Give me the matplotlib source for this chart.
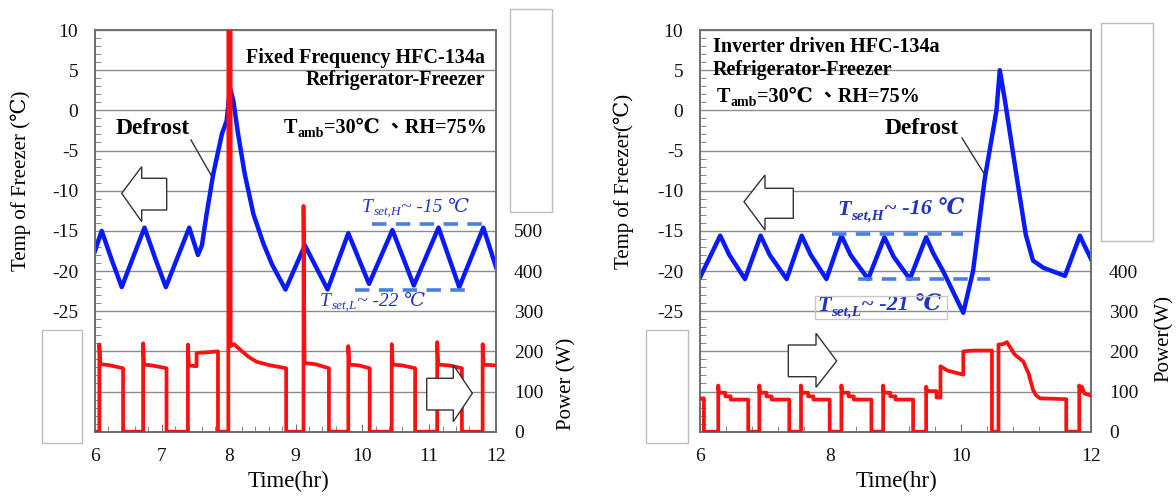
import matplotlib
matplotlib.use('Agg')
import matplotlib.pyplot as plt
from matplotlib.patches import Rectangle, Polygon
from matplotlib.ticker import MultipleLocator

plt.rcParams['font.family'] = ['Liberation Serif', 'DejaVu Serif', 'Noto Sans CJK TC']

# freezer temperature (hr, degC) - fixed frequency unit
temp_fix = [
    (6.00, -17.5), (6.10, -15.0), (6.25, -18.6), (6.40, -22.0), (6.74, -14.6),
    (6.90, -18.4), (7.06, -22.0), (7.41, -14.6), (7.54, -18.0), (7.60, -16.8),
    (7.67, -12.9), (7.77, -7.9), (7.90, -2.9), (7.97, -1.3), (8.02, 2.8),
    (8.07, 1.2), (8.14, -2.9), (8.24, -7.9), (8.37, -12.9), (8.52, -16.6),
    (8.65, -19.2), (8.85, -22.3), (9.14, -16.8), (9.48, -22.3), (9.79, -15.3),
    (10.10, -21.6), (10.45, -14.9), (10.77, -21.8), (11.14, -14.6), (11.45, -22.0),
    (11.81, -14.6), (12.00, -19.5),
]

# compressor + heater power (hr, W) - fixed frequency unit
pow_fix = [
    (6.00, 0), (6.065, 0), (6.065, 217), (6.08, 168), (6.20, 166), (6.42, 158), (6.42, 0),
    (6.72, 0), (6.72, 220), (6.735, 167), (6.85, 165), (7.07, 158), (7.07, 0),
    (7.39, 0), (7.39, 217), (7.405, 165), (7.52, 163), (7.52, 196), (7.70, 198), (7.84, 200), (7.84, 0),
    (7.995, 0), (7.995, 1100), (8.03, 1100), (8.03, 213), (8.08, 218), (8.12, 212), (8.20, 200),
    (8.30, 186), (8.42, 174), (8.60, 166), (8.86, 158), (8.86, 0),
    (9.12, 0), (9.12, 562), (9.135, 171), (9.30, 168), (9.50, 158), (9.50, 0),
    (9.79, 0), (9.79, 213), (9.805, 167), (9.95, 165), (10.11, 158), (10.11, 0),
    (10.44, 0), (10.44, 218), (10.455, 167), (10.60, 165), (10.79, 158), (10.79, 0),
    (11.12, 0), (11.12, 223), (11.135, 167), (11.30, 165), (11.49, 158), (11.49, 0),
    (11.80, 0), (11.80, 218), (11.815, 167), (12.00, 165),
]

# freezer temperature (hr, degC) - inverter unit
temp_inv = [
    (6.00, -20.8), (6.31, -15.6), (6.45, -18.0), (6.69, -21.0), (6.93, -15.6),
    (7.07, -18.0), (7.33, -21.0), (7.56, -15.6), (7.70, -18.0), (7.94, -21.0),
    (8.17, -15.6), (8.31, -18.0), (8.58, -21.0), (8.83, -15.8), (8.97, -18.2),
    (9.22, -21.0), (9.47, -15.8), (9.58, -17.8), (9.73, -20.0), (10.04, -25.2),
    (10.19, -20.0), (10.37, -8.5), (10.55, 0.0), (10.60, 5.0), (10.68, 1.2),
    (10.86, -8.3), (11.00, -15.5), (11.11, -18.7), (11.27, -19.6), (11.60, -20.6),
    (11.83, -15.6), (11.88, -16.5), (12.00, -18.5),
]

# compressor + heater power (hr, W) - inverter unit
pow_inv = [
    (6.00, 83), (6.06, 83), (6.06, 0), (6.28, 0), (6.28, 115), (6.29, 97), (6.39, 97),
    (6.39, 88), (6.47, 88), (6.47, 80), (6.74, 80), (6.74, 0),
    (6.91, 0), (6.91, 115), (6.92, 97), (7.02, 97), (7.02, 88), (7.10, 88), (7.10, 80), (7.37, 80), (7.37, 0),
    (7.55, 0), (7.55, 115), (7.56, 97), (7.66, 97), (7.66, 88), (7.74, 88), (7.74, 80), (7.99, 80), (7.99, 0),
    (8.17, 0), (8.17, 115), (8.18, 97), (8.28, 97), (8.28, 88), (8.36, 88), (8.36, 80), (8.63, 80), (8.63, 0),
    (8.81, 0), (8.81, 115), (8.82, 97), (8.92, 97), (8.92, 88), (9.00, 88), (9.00, 80), (9.27, 80), (9.27, 0),
    (9.47, 0), (9.47, 112), (9.49, 101), (9.63, 101), (9.63, 85), (9.69, 85), (9.69, 163),
    (9.80, 152), (10.04, 142), (10.04, 200), (10.20, 202), (10.48, 202), (10.48, 0),
    (10.58, 0), (10.58, 217), (10.65, 218), (10.71, 223), (10.76, 210), (10.83, 192),
    (10.96, 175), (11.00, 160), (11.04, 146), (11.11, 104), (11.16, 90), (11.22, 83),
    (11.62, 81), (11.62, 0), (11.82, 0), (11.82, 115), (11.84, 100), (11.86, 112),
    (11.90, 95), (12.00, 90),
]

temp_ticks = [-25, -20, -15, -10, -5, 0, 5, 10]
power_ticks_fix = [0, 100, 200, 300, 400, 500]
power_ticks_inv = [0, 100, 200, 300, 400]
time_ticks_fix = [6, 7, 8, 9, 10, 11, 12]
time_ticks_inv = [6, 8, 10, 12]

W, H = 1176, 497
fig = plt.figure(figsize=(W / 100, H / 100), dpi=100)


def fx(px):
    return px / W


def fy(py):
    return 1 - py / H


BLUE = '#0a1aff'
RED = '#ff1010'
DASH = '#4a7ee0'
LABEL_BLUE = '#2233c4'
FRAME = '#707070'


def make_panel(left_px, right_px, temp, power, xticks, xminor, pticks):
    ax = fig.add_axes([fx(left_px), fy(431.7), fx(right_px - left_px), (431.7 - 30) / H])
    ax2 = ax.twinx()
    t, v = zip(*temp)
    ax.plot(t, v, color=BLUE, lw=3.2, zorder=3)
    t, p = zip(*power)
    ax2.plot(t, p, color=RED, lw=2.7, zorder=3)

    ax.set_xlim(6, 12)
    ax.set_ylim(-40, 10)
    ax2.set_ylim(0, 1000)

    ax.set_yticks(range(-40, 11, 5))
    ax.set_yticklabels([str(v) if v in temp_ticks else '' for v in range(-40, 11, 5)])
    ax.yaxis.set_minor_locator(MultipleLocator(1))
    ax.set_xticks(xticks)
    ax.xaxis.set_minor_locator(MultipleLocator(xminor))
    ax.tick_params(axis='both', which='both', direction='in', colors=FRAME,
                   labelcolor='#111111', labelsize=14)
    ax.tick_params(axis='y', which='major', length=0, pad=12)
    ax.tick_params(axis='y', which='minor', length=4)
    ax.tick_params(axis='x', which='major', length=6, pad=12)
    ax.tick_params(axis='x', which='minor', length=4)

    ax2.set_yticks(pticks)
    ax2.tick_params(axis='y', length=0, pad=13, labelsize=14, labelcolor='#111111')

    ax.grid(axis='y', color='#8c8c8c', lw=1.0)
    ax.set_axisbelow(True)
    for a in (ax, ax2):
        for s in a.spines.values():
            s.set_color(FRAME)
            s.set_linewidth(1.3)
    return ax, ax2


axL, axL2 = make_panel(95, 496, temp_fix, pow_fix, time_ticks_fix, 0.2, power_ticks_fix)
axR, axR2 = make_panel(700, 1091, temp_inv, pow_inv, time_ticks_inv, 0.4, power_ticks_inv)

# set-point bands
axL.plot([10.14, 11.885], [-14.2, -14.2], color=DASH, lw=2.6, dashes=(4, 2.6), zorder=4)
axL.plot([9.89, 11.64], [-22.4, -22.4], color=DASH, lw=2.6, dashes=(4, 2.6), zorder=4)
axR.plot([8.02, 10.04], [-15.4, -15.4], color=DASH, lw=2.6, dashes=(4, 2.6), zorder=4)
axR.plot([8.43, 10.45], [-21.0, -21.0], color=DASH, lw=2.6, dashes=(4, 2.6), zorder=4)

# axis titles
fig.text(fx(21), fy(181), 'Temp of Freezer (℃)', rotation=90, ha='center', va='center', fontsize=15)
fig.text(fx(624), fy(181), 'Temp of Freezer(℃)', rotation=90, ha='center', va='center', fontsize=15)
fig.text(fx(567), fy(384), 'Power (W)', rotation=90, ha='center', va='center', fontsize=15)
fig.text(fx(1164), fy(339), 'Power(W)', rotation=90, ha='center', va='center', fontsize=15)
fig.text(fx(289), fy(481), 'Time(hr)', ha='center', va='center', fontsize=16.5)
fig.text(fx(897), fy(481), 'Time(hr)', ha='center', va='center', fontsize=16.5)


def chain(host, x, y, parts, **kw):
    """Write text pieces one after another; a piece with drop > 0 is set as a subscript."""
    first = host.annotate(parts[0][0], xy=(fx(x), fy(y)), xycoords='figure fraction',
                          fontsize=parts[0][1], ha='left', va='center',
                          annotation_clip=False, zorder=7, **kw)
    prev = first
    for txt, size, drop in parts[1:]:
        prev = host.annotate(txt, xy=(1, 0), xycoords=(prev, first),
                             xytext=(0.4 if drop else 0, -drop), textcoords='offset points',
                             fontsize=size, ha='left', va='bottom',
                             annotation_clip=False, zorder=7, **kw)
    return first


# condition notes
fig.text(fx(485), fy(58), 'Fixed Frequency HFC-134a', ha='right', va='center',
         fontsize=14.5, fontweight='bold')
fig.text(fx(485), fy(80), 'Refrigerator-Freezer', ha='right', va='center',
         fontsize=14.5, fontweight='bold')
chain(axL2, 284, 128, [('T', 14.5, 0), ('amb', 10, 1.5), ('=30℃ 、RH=75%', 14.5, 0)],
      fontweight='bold')
fig.text(fx(713), fy(47), 'Inverter driven HFC-134a', ha='left', va='center',
         fontsize=14.5, fontweight='bold')
fig.text(fx(713), fy(70), 'Refrigerator-Freezer', ha='left', va='center',
         fontsize=14.5, fontweight='bold')
chain(axR2, 717, 97, [('T', 14.5, 0), ('amb', 10, 1.5), ('=30℃ 、RH=75%', 14.5, 0)],
      fontweight='bold')

# defrost callouts
fig.text(fx(116), fy(128), 'Defrost', ha='left', va='center', fontsize=17, fontweight='bold')
fig.text(fx(885), fy(128), 'Defrost', ha='left', va='center', fontsize=17, fontweight='bold')
fig.add_artist(plt.Line2D([fx(191), fx(211)], [fy(140), fy(175)], color='#333333', lw=1,
                          transform=fig.transFigure, zorder=6))
fig.add_artist(plt.Line2D([fx(962), fx(985)], [fy(138), fy(175)], color='#333333', lw=1,
                          transform=fig.transFigure, zorder=6))

# set-point labels
chain(axL2, 362, 207, [('T', 14, 0), ('set,H', 9.5, 1.5), ('~ -15 ℃', 14, 0)],
      style='italic', color=LABEL_BLUE)
chain(axL2, 320, 301, [('T', 14, 0), ('set,L', 9.5, 1.5), ('~ -22 ℃', 14, 0)],
      style='italic', color=LABEL_BLUE)
chain(axR2, 837, 210, [('T', 16, 0), ('set,H', 11, 1.8), ('~ -16 ℃', 16, 0)],
      style='italic', fontweight='bold', color=LABEL_BLUE)
chain(axR2, 817, 306, [('T', 16, 0), ('set,L', 11, 1.8), ('~ -21 ℃', 16, 0)],
      style='italic', fontweight='bold', color=LABEL_BLUE)
fig.add_artist(Rectangle((fx(815), fy(319)), fx(132), 23 / H, transform=fig.transFigure,
                         facecolor='none', edgecolor='#c8c8c8', lw=1, zorder=6))


def arrow(pts):
    fig.add_artist(Polygon([(fx(x), fy(y)) for x, y in pts], closed=True, transform=fig.transFigure,
                           facecolor='white', edgecolor='#333333', lw=1, zorder=8))


# left-pointing arrows -> temperature axis, right-pointing -> power axis
arrow([(121.7, 193.3), (141.7, 166.7), (141.7, 178.3), (166.7, 178.3),
       (166.7, 210), (141.7, 210), (141.7, 221.7)])
arrow([(472.3, 393.3), (453.3, 365), (453.3, 378.3), (426.7, 378.3),
       (426.7, 410), (453.3, 410), (453.3, 421.7)])
arrow([(744, 201.7), (765, 175), (765, 188.3), (793.3, 188.3),
       (793.3, 218.3), (765, 218.3), (765, 230)])
arrow([(836.7, 361), (816, 333.3), (816, 345), (788.3, 345),
       (788.3, 376.7), (816, 376.7), (816, 387.3)])


def blank(x0, y0, x1, y1):
    fig.add_artist(Rectangle((fx(x0), fy(y1)), fx(x1 - x0), (y1 - y0) / H, transform=fig.transFigure,
                             facecolor='white', edgecolor='#bdbdbd', lw=1, zorder=9))


blank(42.3, 330, 82.3, 443.3)
blank(510, 9.3, 551.7, 211.7)
blank(645.7, 330, 688.3, 443.3)
blank(1101, 22.7, 1152.7, 241)

fig.savefig('out.png', dpi=100)
